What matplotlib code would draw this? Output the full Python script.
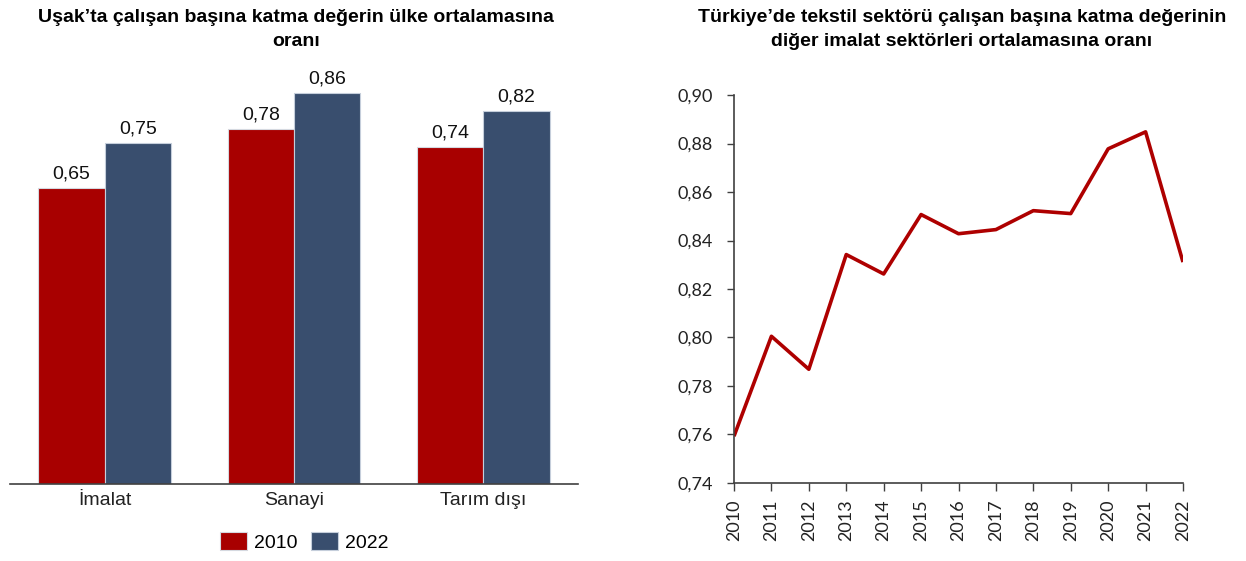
import matplotlib
matplotlib.use("Agg")
import matplotlib.pyplot as plt
import numpy as np

# left panel data
categories = ["İmalat", "Sanayi", "Tarım dışı"]
vals_2010 = [0.65, 0.78, 0.74]
vals_2022 = [0.75, 0.86, 0.82]

# right panel data
years = list(range(2010, 2023))
textile_ratio = [0.7593, 0.8005, 0.7869, 0.8342, 0.8262, 0.8507, 0.8428,
                 0.8445, 0.8523, 0.8511, 0.8778, 0.8848, 0.8311]
y_ticks = [0.74, 0.76, 0.78, 0.80, 0.82, 0.84, 0.86, 0.88, 0.90]

RED = "#A80000"
BLUE = "#394E6E"
AX_COL = "#404040"
ARIAL = "Liberation Sans"
CALIBRI = "Lato"

W, H = 1246, 561
fig = plt.figure(figsize=(W / 100, H / 100), dpi=100)

# ---- left: bar chart
ax1 = fig.add_axes([10 / W, 1 - 484 / H, 568 / W, 432 / H])
x = np.arange(len(categories))
bw = 0.35
b1 = ax1.bar(x - bw / 2, vals_2010, bw, color=RED, edgecolor="#d5d9e0", linewidth=0.8, label="2010")
b2 = ax1.bar(x + bw / 2, vals_2022, bw, color=BLUE, edgecolor="#c5cedb", linewidth=0.8, label="2022")
for bars in (b1, b2):
    for r in bars:
        v = r.get_height()
        ax1.annotate(f"{v:.2f}".replace(".", ","), (r.get_x() + r.get_width() / 2, v),
                     xytext=(0, 4), textcoords="offset points", ha="center", va="bottom",
                     fontsize=14, family=ARIAL, color="#111111")
ax1.set_xlim(-0.5, 2.5)
ax1.set_ylim(0, 0.95)
ax1.set_yticks([])
ax1.set_xticks(x)
ax1.set_xticklabels(categories, fontsize=14, family=ARIAL, color="#222222")
ax1.tick_params(axis="x", length=0, pad=6)
for s in ("top", "right", "left"):
    ax1.spines[s].set_visible(False)
ax1.spines["bottom"].set_color(AX_COL)
ax1.spines["bottom"].set_linewidth(1.2)

fig.legend(handles=[b1, b2], labels=["2010", "2022"], loc="center",
           bbox_to_anchor=(304 / W, 1 - 542 / H), ncol=2, frameon=False,
           prop={"family": ARIAL, "size": 14}, handlelength=1.4, handleheight=1.0,
           handletextpad=0.35, columnspacing=0.7, borderpad=0)

fig.text(296 / W, 1 - 17 / H, "Uşak’ta çalışan başına katma değerin ülke ortalamasına",
         ha="center", va="center", fontsize=14, fontweight="bold", family=ARIAL)
fig.text(296 / W, 1 - 42 / H, "oranı", ha="center", va="center", fontsize=14,
         fontweight="bold", family=ARIAL)

# ---- right: line chart
ax2 = fig.add_axes([734 / W, 1 - 483 / H, 449 / W, 388 / H])
ax2.plot(years, textile_ratio, color="#AE0000", linewidth=2.6, solid_capstyle="butt")
ax2.set_xlim(2010, 2022)
ax2.set_ylim(0.74, 0.90)
ax2.set_yticks(y_ticks)
ax2.set_yticklabels([f"{t:.2f}".replace(".", ",") for t in y_ticks],
                    fontsize=13, family=CALIBRI, color="#222222")
ax2.set_xticks(years)
ax2.set_xticklabels([str(y) for y in years], rotation=90, fontsize=13,
                    family=CALIBRI, color="#222222")
ax2.tick_params(axis="y", direction="out", length=5, width=1, color=AX_COL, pad=10)
ax2.tick_params(axis="x", direction="out", length=6, width=1, color=AX_COL, pad=6)
for s in ("top", "right"):
    ax2.spines[s].set_visible(False)
for s in ("left", "bottom"):
    ax2.spines[s].set_color(AX_COL)
    ax2.spines[s].set_linewidth(1.2)

fig.text(962 / W, 1 - 17 / H, "Türkiye’de tekstil sektörü çalışan başına katma değerinin",
         ha="center", va="center", fontsize=14, fontweight="bold", family=ARIAL)
fig.text(962 / W, 1 - 42 / H, "diğer imalat sektörleri ortalamasına oranı",
         ha="center", va="center", fontsize=14, fontweight="bold", family=ARIAL)

fig.savefig("out.png", dpi=100)
